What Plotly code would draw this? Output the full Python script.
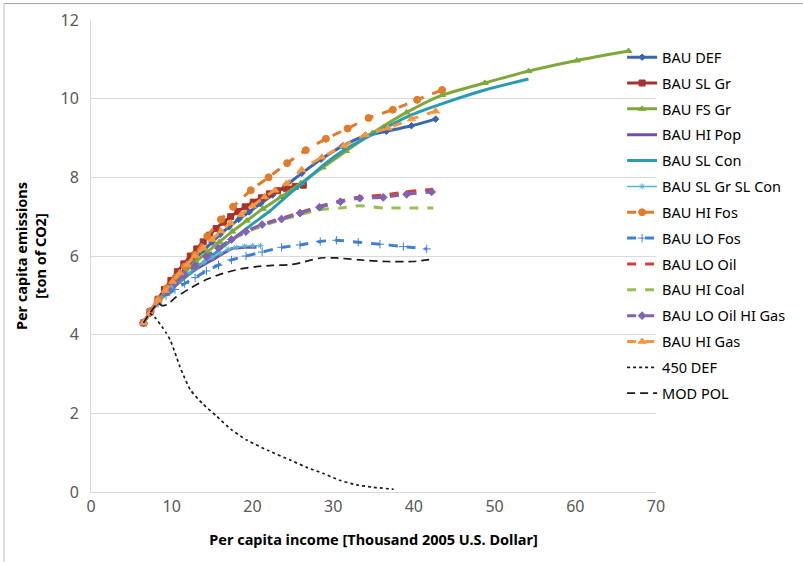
import plotly.graph_objects as go

# ---- data ----
def_x = [6.5,7.3,8.3,9.2,10.1,11.0,12.0,13.0,14.0,15.0,16.0,17.1,18.3,19.6,21.0,22.5,24.2,26.1,28.5,31.2,33.9,36.6,39.7,42.7]
def_y = [4.3,4.55,4.86,5.1,5.33,5.53,5.75,5.95,6.15,6.35,6.55,6.74,6.93,7.12,7.33,7.55,7.8,8.1,8.46,8.8,9.05,9.17,9.31,9.48]

slgr_x = [6.5,7.3,8.3,9.1,9.9,10.7,11.5,12.3,13.1,13.9,14.7,15.5,16.4,17.3,18.2,19.1,20.1,21.1,22.1,23.1,24.2,25.3,26.3]
slgr_y = [4.3,4.58,4.9,5.15,5.38,5.6,5.8,6.0,6.18,6.36,6.53,6.7,6.86,7.0,7.13,7.25,7.37,7.48,7.58,7.66,7.72,7.77,7.8]

fsgr_x = [6.5,7.3,8.3,9.4,10.5,11.7,13.0,14.4,15.9,17.5,19.3,21.3,23.5,26.0,28.7,31.6,34.9,39.1,43.5,48.8,54.2,60.2,66.6]
fsgr_y = [4.3,4.55,4.86,5.12,5.36,5.6,5.85,6.1,6.36,6.62,6.9,7.2,7.5,7.85,8.25,8.67,9.13,9.65,10.09,10.4,10.7,10.97,11.21]

hipop_x = [6.5,7.3,8.3,9.3,10.3,11.3,12.3,13.3,14.3,15.3,16.4,17.6,19.0,20.5]
hipop_y = [4.3,4.55,4.84,5.04,5.22,5.4,5.56,5.7,5.82,5.93,6.07,6.2,6.22,6.22]

slcon_x = [6.5,7.3,8.3,9.4,10.6,11.9,13.3,14.8,16.4,18.2,20.1,22.2,24.4,26.5,28.6,31.7,34.6,39.5,43.9,48.8,54.2]
slcon_y = [4.3,4.55,4.84,5.05,5.27,5.5,5.74,5.98,6.24,6.53,6.83,7.15,7.55,7.9,8.28,8.74,9.06,9.57,9.9,10.22,10.5]

slgrslcon_x = [6.5,7.3,8.3,9.2,10.1,11.0,12.0,13.0,14.0,15.0,16.0,17.0,18.0,19.0,20.0,21.0]
slgrslcon_y = [4.3,4.55,4.85,5.05,5.24,5.4,5.56,5.7,5.84,5.96,6.07,6.17,6.22,6.25,6.26,6.26]

hifos_x = [6.5,7.4,8.4,9.4,10.5,11.6,12.9,14.4,16.1,17.6,19.8,22.0,24.3,26.6,29.1,31.8,34.4,37.4,40.4,43.5]
hifos_y = [4.3,4.6,4.9,5.18,5.45,5.73,6.03,6.5,6.93,7.25,7.67,8.0,8.36,8.69,8.98,9.24,9.51,9.72,9.97,10.22]

lofos_x = [6.5,7.3,8.3,9.3,10.4,11.6,12.9,14.3,15.8,17.4,19.2,21.2,23.6,25.9,28.4,30.4,33.1,35.8,38.7,41.6]
lofos_y = [4.3,4.55,4.8,5.0,5.15,5.3,5.45,5.62,5.77,5.9,6.0,6.1,6.22,6.28,6.37,6.4,6.35,6.3,6.24,6.18]

looil_x = [6.5,7.3,8.3,9.3,10.4,11.6,12.9,14.3,15.8,17.4,19.2,21.2,23.6,25.9,28.3,30.9,33.3,36.2,39.1,42.4]
looil_y = [4.3,4.55,4.85,5.08,5.3,5.52,5.75,5.98,6.2,6.42,6.62,6.8,6.96,7.1,7.26,7.4,7.5,7.55,7.63,7.7]

hicoal_x = [6.5,7.3,8.3,9.3,10.4,11.6,12.9,14.3,15.8,17.4,19.2,21.2,23.6,25.9,28.3,30.9,33.3,36.2,39.1,42.4]
hicoal_y = [4.3,4.55,4.85,5.08,5.3,5.52,5.75,5.98,6.2,6.42,6.6,6.76,6.92,7.05,7.18,7.22,7.28,7.22,7.22,7.22]

looilhigas_x = [6.5,7.3,8.3,9.3,10.4,11.6,12.9,14.3,15.8,17.4,19.2,21.2,23.6,25.9,28.3,30.9,33.3,36.2,39.1,42.2]
looilhigas_y = [4.3,4.55,4.85,5.08,5.3,5.52,5.75,5.98,6.2,6.42,6.62,6.8,6.94,7.09,7.24,7.38,7.47,7.49,7.57,7.63]

higas_x = [6.5,7.3,8.3,9.2,10.1,11.0,11.9,12.9,13.9,15.0,16.1,17.3,18.6,20.0,21.5,22.8,24.2,26.1,28.6,31.3,34.0,36.8,39.7,42.7]
higas_y = [4.3,4.55,4.88,5.12,5.35,5.57,5.78,6.0,6.2,6.42,6.63,6.84,7.05,7.27,7.5,7.67,7.84,8.19,8.51,8.8,9.08,9.25,9.48,9.68]

def450_x = [7.3,8.0,8.8,9.3,9.8,10.4,11.0,11.6,12.3,13.8,15.6,17.3,19.3,22.0,24.7,26.8,28.8,30.8,32.9,35.0,37.5]
def450_y = [4.55,4.42,4.2,4.05,3.87,3.55,3.19,2.9,2.6,2.25,1.92,1.6,1.32,1.05,0.81,0.62,0.47,0.3,0.18,0.12,0.07]

modpol_x = [6.5,7.3,8.3,8.8,9.4,10.5,12.3,14.3,16.4,18.5,20.5,22.5,24.7,26.0,28.4,30.4,33.3,36.6,39.9,42.4]
modpol_y = [4.3,4.55,4.8,4.74,4.76,4.95,5.18,5.4,5.56,5.67,5.73,5.76,5.78,5.83,5.95,5.95,5.9,5.86,5.86,5.92]

x_ticks = [0, 10, 20, 30, 40, 50, 60, 70]
y_ticks = [0, 2, 4, 6, 8, 10, 12]

# ---- series styles ----
series = [
    ("BAU DEF", def_x, def_y, "#3A66AE", "solid", 3, "diamond", 5),
    ("BAU SL Gr", slgr_x, slgr_y, "#A8322E", "solid", 3, "square", 6),
    ("BAU FS Gr", fsgr_x, fsgr_y, "#7FA83A", "solid", 3, "triangle-up", 6),
    ("BAU HI Pop", hipop_x, hipop_y, "#7151A1", "solid", 3, None, 0),
    ("BAU SL Con", slcon_x, slcon_y, "#2B9AB3", "solid", 3, None, 0),
    ("BAU SL Gr SL Con", slgrslcon_x, slgrslcon_y, "#5AB4D6", "solid", 1.5, "asterisk-open", 5),
    ("BAU HI Fos", hifos_x, hifos_y, "#E07C2A", "dash", 3, "circle", 7),
    ("BAU LO Fos", lofos_x, lofos_y, "#3F80CF", "dash", 3, "cross-thin-open", 6),
    ("BAU LO Oil", looil_x, looil_y, "#D2403C", "dash", 3, None, 0),
    ("BAU HI Coal", hicoal_x, hicoal_y, "#94C24F", "dash", 3, None, 0),
    ("BAU LO Oil HI Gas", looilhigas_x, looilhigas_y, "#8061B2", "dash", 3, "diamond", 6),
    ("BAU HI Gas", higas_x, higas_y, "#F7963F", "dash", 3, "triangle-up", 7),
    ("450 DEF", def450_x, def450_y, "#1A1A1A", "dot", 1.7, None, 0),
    ("MOD POL", modpol_x, modpol_y, "#1A1A1A", "8px,5px", 1.7, None, 0),
]

fig = go.Figure()
for i, (name, xs, ys, color, dash, width, sym, size) in enumerate(series):
    kw = dict(mode="lines")
    if sym:
        kw = dict(mode="lines+markers",
                  marker=dict(symbol=sym, size=size, color=color,
                              line=dict(width=1, color=color)))
    fig.add_trace(go.Scatter(
        x=xs, y=ys, name=name, legendgroup=f"g{i}",
        line=dict(color=color, dash=dash, width=width, shape="spline", smoothing=0.6),
        **kw))

fig.update_layout(
    width=803, height=562,
    paper_bgcolor="white", plot_bgcolor="white",
    margin=dict(l=91, r=147, t=20, b=70),
    font=dict(family="Noto Sans, Open Sans, sans-serif", color="#262626"),
    showlegend=True,
    legend=dict(x=0.94, y=0.955, xanchor="left", yanchor="top",
                bgcolor="rgba(0,0,0,0)", font=dict(size=14.5, color="#000000"),
                tracegroupgap=4, itemwidth=30),
    xaxis=dict(range=[0, 70], tickvals=x_ticks, showgrid=False, zeroline=False,
               showline=True, linecolor="#D9D9D9", linewidth=1, automargin=False,
               ticks="", tickfont=dict(size=16, color="#595959"),
               title=dict(text="<b>Per capita income [Thousand 2005 U.S. Dollar]</b>",
                          font=dict(size=14.5, color="#000000"), standoff=18)),
    yaxis=dict(range=[0, 12], tickvals=y_ticks, showgrid=True, gridcolor="#D9D9D9",
               zeroline=False, showline=True, linecolor="#D9D9D9", linewidth=1,
               automargin=False,
               ticks="", tickfont=dict(size=16, color="#595959"), ticklabelstandoff=8,
               title=dict(text="<b>Per capita emissions<br>[ton of CO2]</b>",
                          font=dict(size=14.5, color="#000000"), standoff=10)),
    shapes=[
        dict(type="line", xref="paper", yref="paper", layer="above",
             x0=(4-91)/565, x1=(803-91)/565, y0=(492-3.5)/472, y1=(492-3.5)/472,
             line=dict(color="#A6A6A6", width=1.2)),
        dict(type="line", xref="paper", yref="paper", layer="above",
             x0=(4-91)/565, x1=(4-91)/565, y0=(492-3)/472, y1=(492-562)/472,
             line=dict(color="#BFBFBF", width=1)),
    ],
)

fig.write_html("out.html", config={"displayModeBar": False},
               post_script="document.body.style.margin='0px';")
